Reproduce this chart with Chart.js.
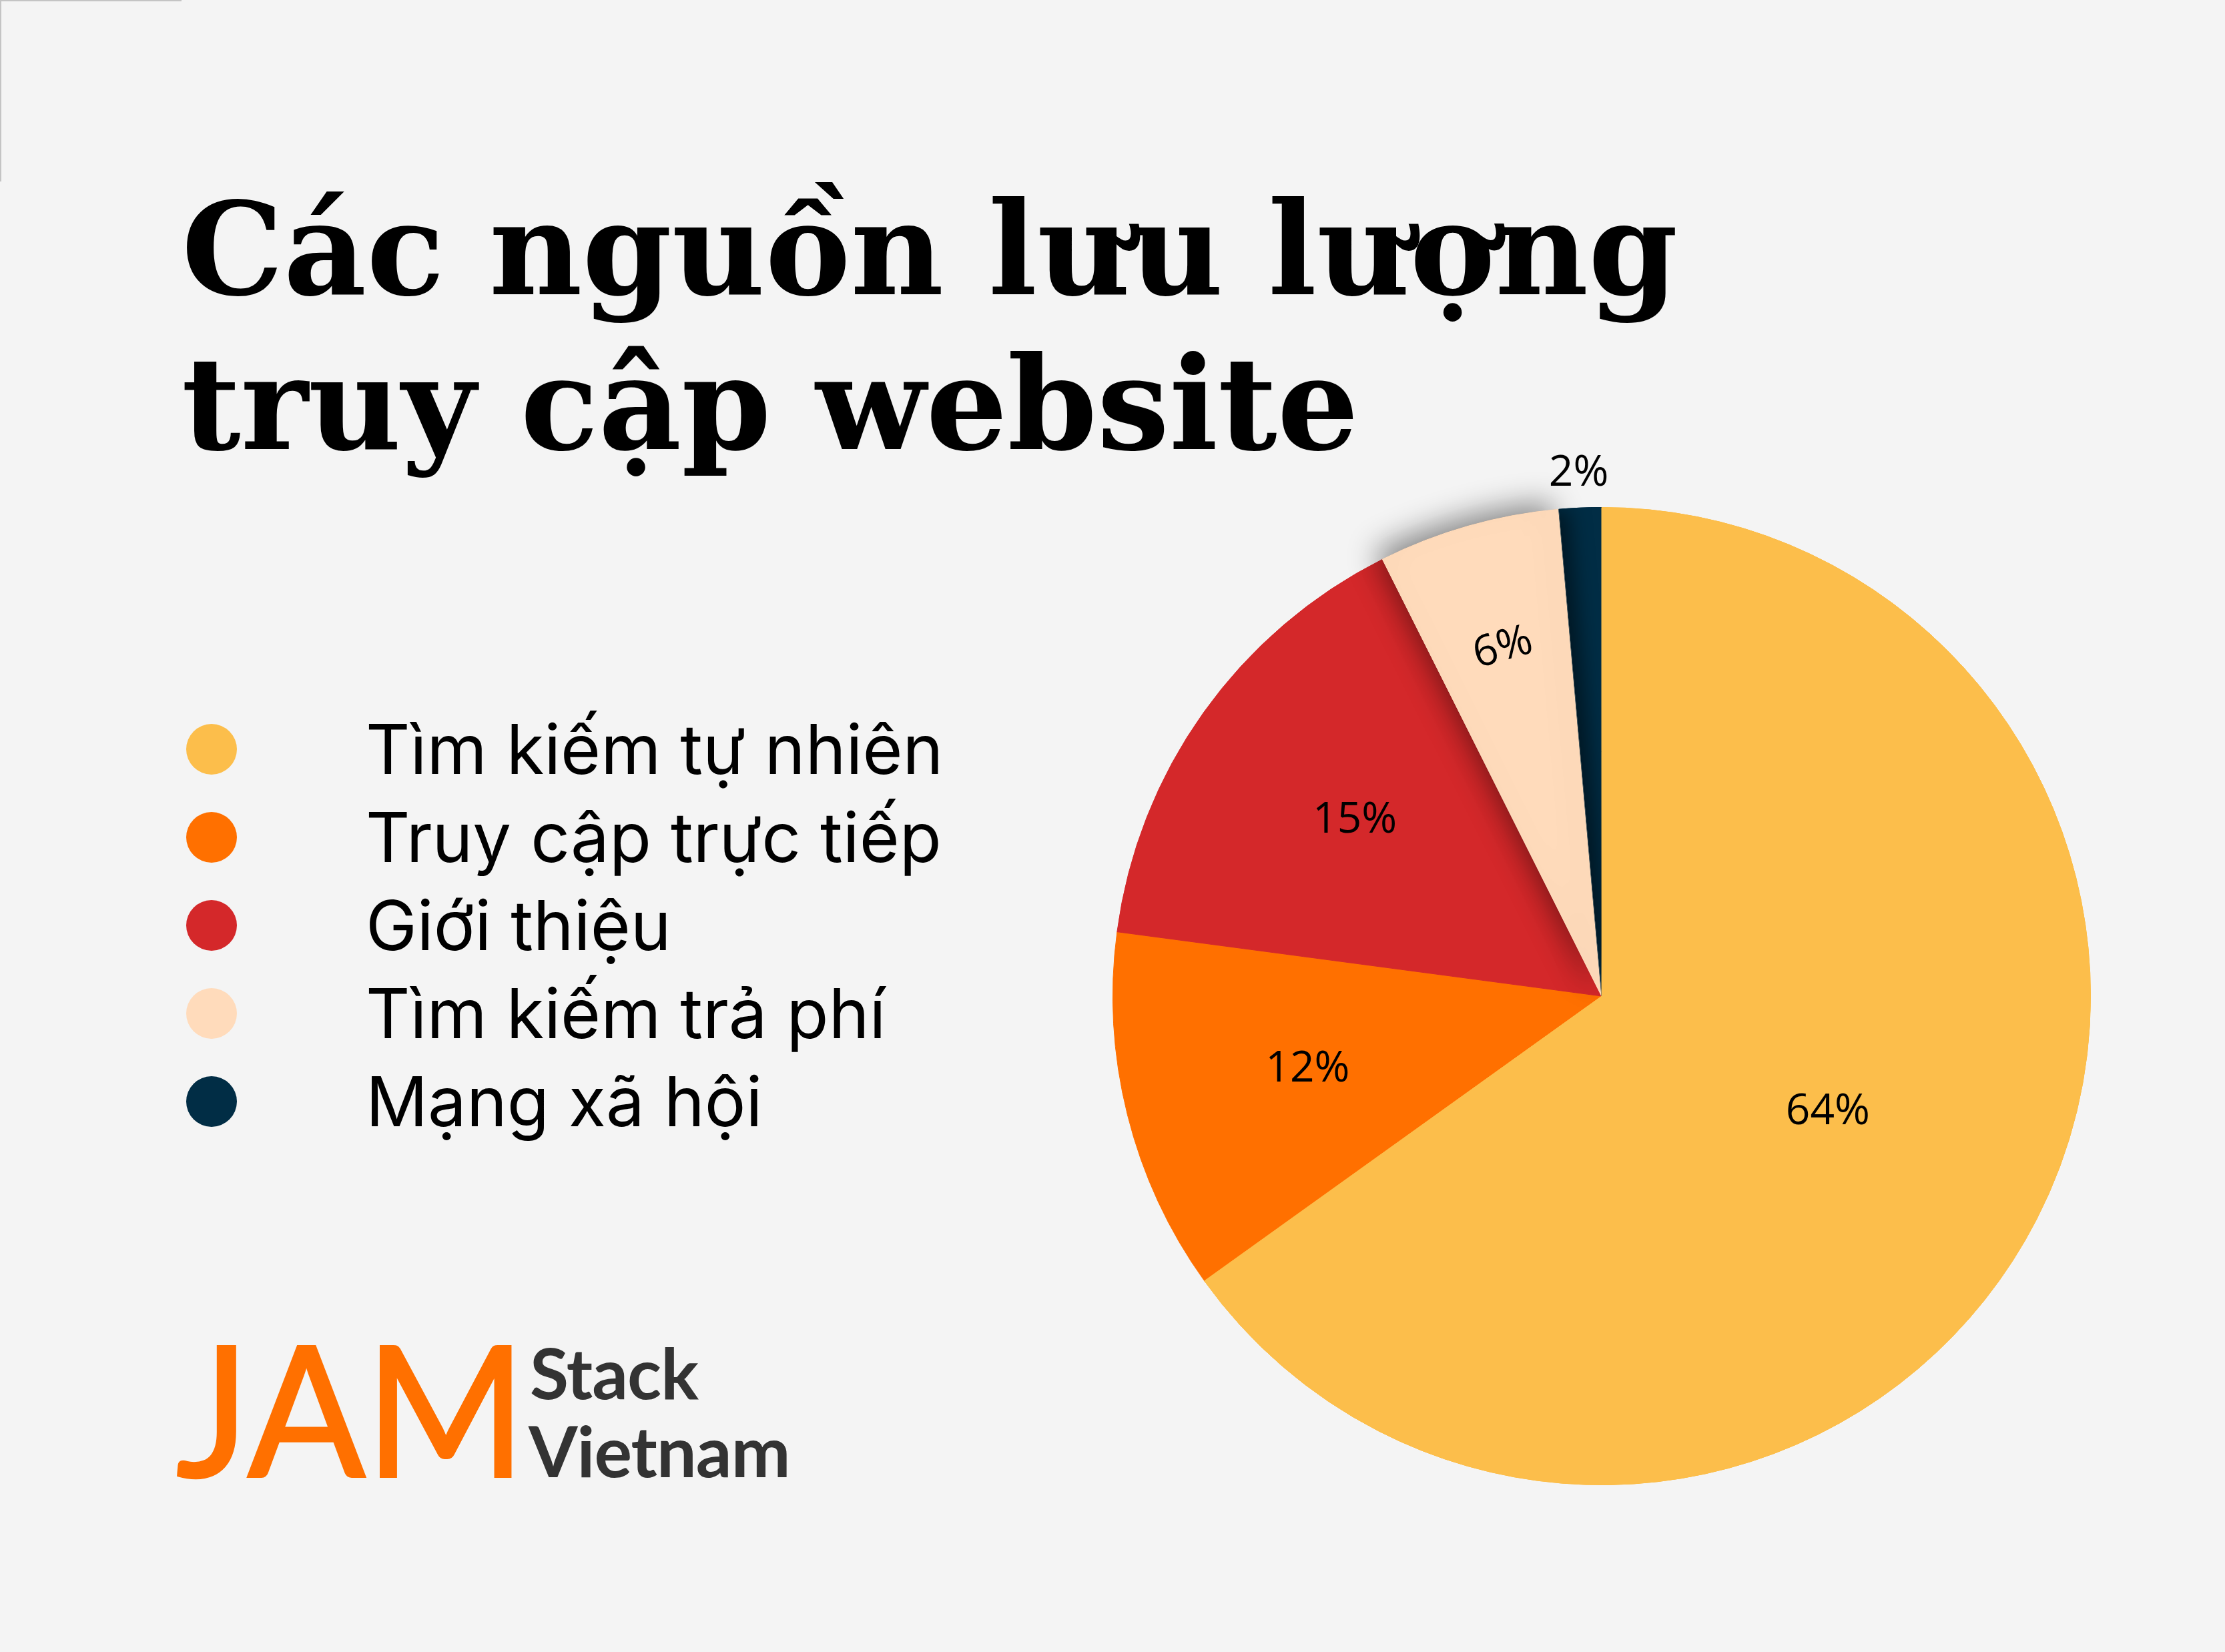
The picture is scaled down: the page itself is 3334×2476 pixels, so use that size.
<!DOCTYPE html>
<html>
<head>
<meta charset="utf-8">
<script src="https://cdn.jsdelivr.net/npm/chart.js@4.4.0/dist/chart.umd.min.js"></script>
<style>
  body { margin: 0; background: #f4f4f4; width: 3334px; height: 2476px; position: relative; overflow: hidden; }
  #canvas { position: absolute; left: 0; top: 0; }
  .corner { position: absolute; left: 0; top: 0; width: 270px; height: 270px; border-top: 2px solid #c4c4c4; border-left: 2px solid #c4c4c4; }
  .title { position: absolute; left: 272px; top: 258px; font-family: "DejaVu Serif", serif; font-weight: bold; font-size: 192px; line-height: 232px; color: #000; white-space: nowrap; }
  #legend { position: absolute; left: 279px; top: 1057px; font-family: Inter, sans-serif; font-size: 103px; line-height: 132px; color: #000; }
  #legend .row { height: 132px; position: relative; white-space: nowrap; }
  #legend .dot { position: absolute; left: 0; top: 28px; width: 76px; height: 76px; border-radius: 50%; }
  #legend .txt { position: absolute; left: 269px; top: 0; }
  .jam { position: absolute; left: 264px; top: 1972px; font-family: Lato, sans-serif; font-size: 272px; line-height: 272px; color: #ff7000;
         -webkit-text-stroke: 4px #ff7000; transform: scaleX(0.955); transform-origin: left top; }
  .sub { position: absolute; font-family: Lato, sans-serif; font-weight: bold; font-size: 106px; line-height: 106px; color: #333; letter-spacing: -1px; }
</style>
</head>
<body>
<canvas id="canvas" width="3334" height="2476"></canvas>
<div class="corner"></div>
<div class="title">Các nguồn lưu lượng<br>truy cập website</div>
<div id="legend"></div>
<div class="jam">JAM</div>
<div class="sub" style="left:794px; top:2003px;">Stack</div>
<div class="sub" style="left:792px; top:2120px;">Vietnam</div>
<script>
var categories = ['Tìm kiếm tự nhiên', 'Truy cập trực tiếp', 'Giới thiệu', 'Tìm kiếm trả phí', 'Mạng xã hội'];
var shares = [65.1, 12.0, 15.5, 6.0, 1.4];
var shareLabels = ['64%', '12%', '15%', '6%', '2%'];
var colors = ['#fcbe4b', '#ff7000', '#d4282a', '#ffdbbb', '#012d45'];

// legend on the left
var legend = document.getElementById('legend');
categories.forEach(function (name, i) {
  var row = document.createElement('div');
  row.className = 'row';
  row.innerHTML = '<span class="dot" style="background:' + colors[i] + '"></span><span class="txt"></span>';
  row.querySelector('.txt').textContent = name;
  legend.appendChild(row);
});

function slicePath(ctx, a) {
  ctx.beginPath();
  ctx.moveTo(a.x, a.y);
  ctx.arc(a.x, a.y, a.outerRadius, a.startAngle, a.endAngle);
  ctx.closePath();
}

// shadows + percentage labels
var sliceEffects = {
  id: 'sliceEffects',
  afterDatasetsDraw: function (chart) {
    var ctx = chart.ctx;
    var arcs = chart.getDatasetMeta(0).data;
    var props = arcs.map(function (a) {
      return a.getProps(['x', 'y', 'startAngle', 'endAngle', 'outerRadius'], true);
    });

    // peach slice casts a soft shadow to the upper left
    ctx.save();
    ctx.shadowColor = 'rgba(0,0,0,0.45)';
    ctx.shadowBlur = 45;
    ctx.shadowOffsetX = -12;
    ctx.shadowOffsetY = -10;
    arcs[3].draw(ctx);
    ctx.restore();
    arcs[4].draw(ctx);
    arcs[0].draw(ctx);

    // darker edge inside the navy slice
    ctx.save();
    slicePath(ctx, props[4]);
    ctx.clip();
    ctx.shadowColor = 'rgba(0,0,0,0.5)';
    ctx.shadowBlur = 30;
    ctx.shadowOffsetX = 14;
    ctx.fillStyle = colors[3];
    slicePath(ctx, props[3]);
    ctx.fill();
    ctx.restore();

    ctx.save();
    ctx.fillStyle = '#000';
    ctx.font = '64px "Open Sans"';
    ctx.textAlign = 'center';
    ctx.textBaseline = 'middle';
    props.forEach(function (p, i) {
      var mid = (p.startAngle + p.endAngle) / 2;
      var frac = (p.endAngle - p.startAngle) / (2 * Math.PI);
      var r = p.outerRadius * 0.62;
      var rot = 0;
      if (frac > 0.5) {
        r = p.outerRadius * 0.52;
      } else if (frac < 0.03) {
        r = p.outerRadius * 1.07;
      } else if (frac < 0.08) {
        r = p.outerRadius * 0.74;
        rot = mid + Math.PI / 2;
      }
      ctx.save();
      ctx.translate(p.x + Math.cos(mid) * r, p.y + Math.sin(mid) * r);
      ctx.rotate(rot);
      ctx.fillText(shareLabels[i], 0, 0);
      ctx.restore();
    });
    ctx.restore();
  }
};

var ctx = document.getElementById('canvas').getContext('2d');
var myPieChart = new Chart(ctx, {
  type: 'pie',
  data: {
    labels: categories,
    datasets: [{
      data: shares,
      backgroundColor: colors,
      borderColor: colors,
      borderWidth: 1,
      hoverOffset: 0
    }]
  },
  options: {
    responsive: false,
    animation: false,
    events: [],
    layout: {
      padding: { left: 1667, right: 201, top: 760, bottom: 250 }
    },
    plugins: {
      legend: { display: false },
      tooltip: { enabled: false }
    }
  },
  plugins: [sliceEffects]
});
</script>
</body>
</html>
